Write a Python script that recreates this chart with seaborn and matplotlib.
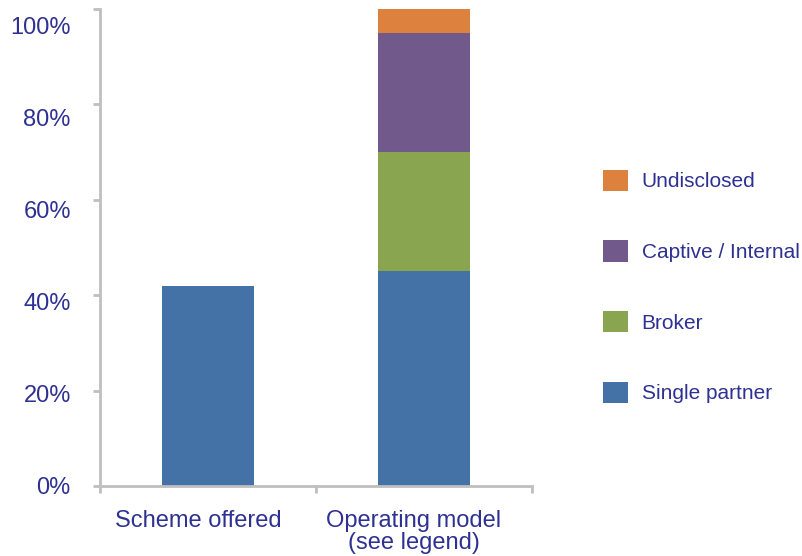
import numpy as np
import pandas as pd
import matplotlib
matplotlib.use("Agg")
import matplotlib.pyplot as plt
import matplotlib.patches as mpatches
from matplotlib.transforms import ScaledTranslation
import seaborn as sns

# data
categories = ["Scheme offered", "Operating model\n(see legend)"]
segments = ["Single partner", "Broker", "Captive / Internal", "Undisclosed"]
single_partner = [42, 45]
broker = [0, 25]
captive_internal = [0, 25]
undisclosed = [0, 5]
colors = ["#4472A7", "#8AA550", "#72598C", "#DC823E"]
y_ticks = [0, 20, 40, 60, 80, 100]

text_color = "#2E3192"
axis_color = "#BFBFBF"

sns.set_style("white")
plt.rcParams["font.family"] = ["Liberation Sans", "DejaVu Sans"]

# long table + cumulative tops for stacking
values = [single_partner, broker, captive_internal, undisclosed]
rows = []
for seg, vals in zip(segments, values):
    for cat, v in zip(categories, vals):
        rows.append({"category": cat, "segment": seg, "value": v})
df = pd.DataFrame(rows)
df["segment"] = pd.Categorical(df["segment"], categories=segments, ordered=True)
df = df.sort_values(["category", "segment"])
df["top"] = df.groupby("category")["value"].cumsum()

fig = plt.figure(figsize=(8.02, 5.56), dpi=100)
ax = fig.add_axes([100 / 802, 1 - 486 / 556, 432 / 802, 477 / 556])

# draw from the top segment down so lower segments sit in front
for seg, col in reversed(list(zip(segments, colors))):
    sub = df[df["segment"] == seg]
    sns.barplot(data=sub, x="category", y="top", order=categories,
                color=col, width=0.43, errorbar=None, saturation=1,
                linewidth=0, edgecolor="none", ax=ax)

ax.set_xlim(-0.5, 1.5)
ax.set_ylim(0, 100)
ax.set_xlabel("")
ax.set_ylabel("")

for s in ["top", "right"]:
    ax.spines[s].set_visible(False)
for s in ["left", "bottom"]:
    ax.spines[s].set_color(axis_color)
    ax.spines[s].set_linewidth(2)

ax.set_yticks(y_ticks)
ax.set_yticklabels([f"{t}%" for t in y_ticks])
ax.tick_params(axis="y", direction="out", length=5, width=2, color=axis_color,
               labelsize=17, labelcolor=text_color, pad=16, left=True)
# labels sit a little below their ticks, more so near the top
for lab, t in zip(ax.get_yticklabels(), y_ticks):
    lab.set_transform(lab.get_transform()
                      + ScaledTranslation(0, -0.17 * t / 100, fig.dpi_scale_trans))

# category boundary ticks like Excel, labels on minor ticks
ax.set_xticks([-0.5, 0.5, 1.5])
ax.set_xticklabels(["", "", ""])
ax.set_xticks([0, 1], minor=True)
ax.set_xticklabels(categories, minor=True)
ax.tick_params(axis="x", which="major", direction="out", length=5, width=2,
               color=axis_color, bottom=True)
ax.tick_params(axis="x", which="minor", length=0, labelsize=17,
               labelcolor=text_color, pad=17)
for lab in ax.get_xticklabels(minor=True):
    lab.set_linespacing(1.0)
    lab.set_transform(lab.get_transform()
                      + ScaledTranslation(-0.10, 0, fig.dpi_scale_trans))

handles = [mpatches.Patch(facecolor=c, edgecolor="none", label=s)
           for s, c in zip(segments, colors)]
leg = fig.legend(handles=handles[::-1], loc="center left",
                 bbox_to_anchor=(603 / 802, 1 - 286.5 / 556),
                 frameon=False, fontsize=15, handlelength=1.2,
                 handleheight=1.2, handletextpad=0.65, labelspacing=2.35,
                 borderpad=0, borderaxespad=0)
for t in leg.get_texts():
    t.set_color(text_color)

fig.savefig("out.png", dpi=100)
